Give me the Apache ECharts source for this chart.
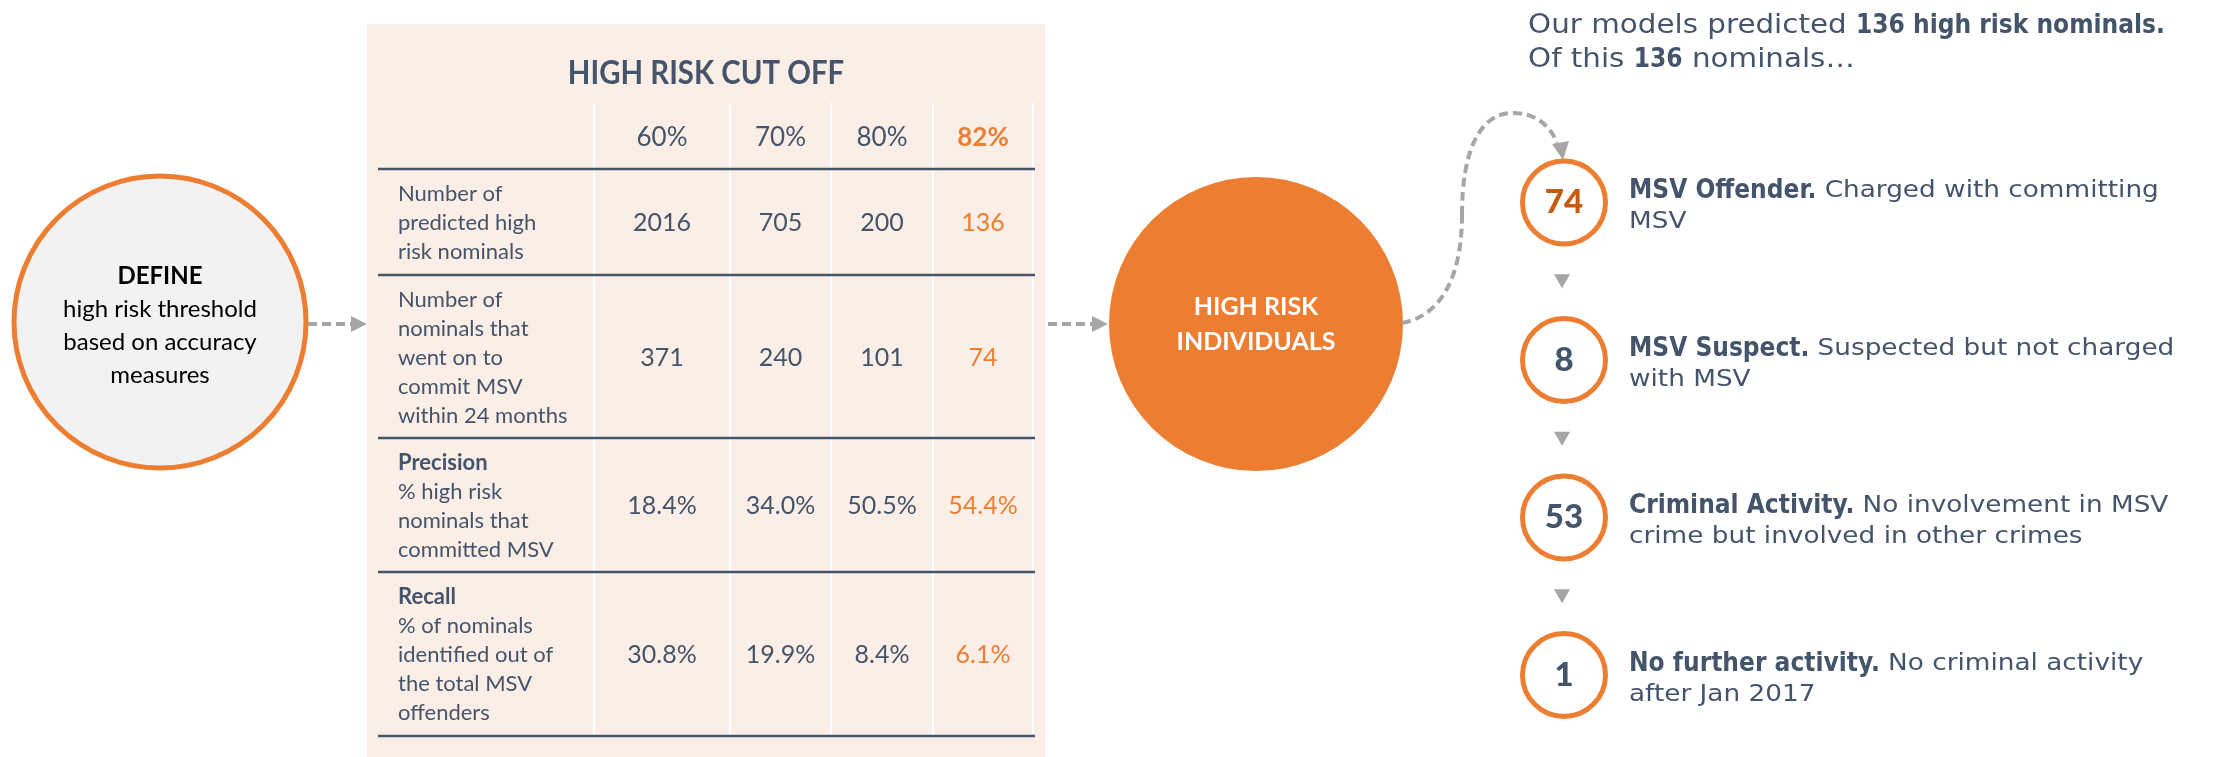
<!DOCTYPE html>
<html>
<head>
<meta charset="utf-8">
<script src="https://cdn.jsdelivr.net/npm/echarts@6/dist/echarts.min.js"></script>
<style>html,body{margin:0;padding:0;background:#fff;}#chart{width:2229px;height:757px;}</style>
</head>
<body>
<div id="chart"></div>
<script>
// ---- data ----
const cutoffs = ['60%', '70%', '80%', '82%'];
const predictedHighRisk = [2016, 705, 200, 136];
const committedWithin24m = [371, 240, 101, 74];
const precisionPct = [18.4, 34.0, 50.5, 54.4];
const recallPct = [30.8, 19.9, 8.4, 6.1];
const rowTitles = ['', '', 'Precision', 'Recall'];
const rowLabelLines = [
  ['Number of', 'predicted high', 'risk nominals'],
  ['Number of', 'nominals that', 'went on to', 'commit MSV', 'within 24 months'],
  ['% high risk', 'nominals that', 'committed MSV'],
  ['% of nominals', 'identified out of', 'the total MSV', 'offenders']
];
const outcomeCounts = [74, 8, 53, 1];
const outcomeTitles = ['MSV Offender.', 'MSV Suspect.', 'Criminal Activity.', 'No further activity.'];
const outcomeLine1 = ['Charged with committing', 'Suspected but not charged', 'No involvement in MSV', 'No criminal activity'];
const outcomeLine2 = ['MSV', 'with MSV', 'crime but involved in other crimes', 'after Jan 2017'];
const totalPredicted = 136;

// ---- style ----
const SLATE = '#44546a', ORANGE = '#ed7d31', DARK_ORANGE = '#c55a11', GREY = '#a6a6a6', PANEL = '#fbeee6';
const CAL = 'Lato, "Noto Sans", sans-serif';

const rows = [
  predictedHighRisk.map(String),
  committedWithin24m.map(String),
  precisionPct.map(v => v.toFixed(1) + '%'),
  recallPct.map(v => v.toFixed(1) + '%')
];

const measureCtx = document.createElement('canvas').getContext('2d');
// lay out a line of mixed regular / bold runs, each horizontally scaled
function runLine(g, x, y, runs) {
  let cx = x;
  runs.forEach(r => {
    measureCtx.font = r.font;
    const w = measureCtx.measureText(r.t).width * r.k;
    g.push({type: 'text', x: cx, y: y, scaleX: r.k, style: {text: r.t, font: r.font, fill: SLATE, align: 'left', verticalAlign: 'middle'}});
    cx += w;
  });
}
const F_BOLD = 'bold 26px "DejaVu Sans"';
const F_HEAD = '26px "DejaVu Sans"';
const F_DESC = '23px "DejaVu Sans"';
const K_BOLD = 0.9, K_HEAD = 1.13, K_DESC = 1.144;

const g = [];
// left circle
g.push({type: 'circle', shape: {cx: 160, cy: 322, r: 146}, style: {fill: '#f2f2f2', stroke: ORANGE, lineWidth: 5}});
g.push({type: 'text', x: 160, y: 326, style: {
  text: '{b|DEFINE}\nhigh risk threshold\nbased on accuracy\nmeasures',
  align: 'center', verticalAlign: 'middle', fill: '#000', fontFamily: CAL, fontSize: 24, lineHeight: 33,
  rich: {b: {fontWeight: 'bold', fontFamily: CAL, fontSize: 24, fill: '#000', lineHeight: 33}}
}});

// dashed arrows
function dashedArrow(x1, x2, y) {
  g.push({type: 'line', shape: {x1: x1, y1: y, x2: x2 - 15, y2: y}, style: {stroke: GREY, lineWidth: 4, lineDash: [9, 5]}});
  g.push({type: 'polygon', shape: {points: [[x2 - 16, y - 8], [x2, y], [x2 - 16, y + 8]]}, style: {fill: GREY}});
}
dashedArrow(308, 367, 324);
dashedArrow(1048, 1108, 324);

// table panel
g.push({type: 'rect', shape: {x: 367, y: 24, width: 678, height: 733}, style: {fill: PANEL}});
g.push({type: 'text', x: 706, y: 73, scaleX: 0.89, style: {text: 'HIGH RISK CUT OFF', align: 'center', verticalAlign: 'middle',
  fill: SLATE, fontFamily: CAL, fontSize: 33, fontWeight: 'bold'}});

const colSep = [594, 730, 831, 933, 1033];
const rowLines = [169, 275, 438, 572, 736];
const headerTop = 103;
colSep.forEach(x => g.push({type: 'line', shape: {x1: x, y1: headerTop, x2: x, y2: 736}, style: {stroke: '#ffffff', lineWidth: 2}}));
rowLines.forEach(y => g.push({type: 'line', shape: {x1: 378, y1: y, x2: 1035, y2: y}, style: {stroke: SLATE, lineWidth: 2.5}}));

const colCenters = colSep.slice(0, 4).map((x, i) => (x + colSep[i + 1]) / 2);
cutoffs.forEach((c, i) => {
  const last = i === cutoffs.length - 1;
  g.push({type: 'text', x: colCenters[i], y: 138, style: {text: c, align: 'center', verticalAlign: 'middle',
    fill: last ? ORANGE : SLATE, fontFamily: CAL, fontSize: 26, fontWeight: last ? 'bold' : 'normal'}});
});
rows.forEach((vals, r) => {
  const mid = (rowLines[r] + rowLines[r + 1]) / 2;
  let txt = rowLabelLines[r].join('\n');
  if (rowTitles[r]) txt = '{b|' + rowTitles[r] + '}\n' + txt;
  g.push({type: 'text', x: 398, y: mid + 1, style: {text: txt, align: 'left', verticalAlign: 'middle',
    fill: SLATE, fontFamily: CAL, fontSize: 22, lineHeight: 29,
    rich: {b: {fontWeight: 'bold', fontFamily: CAL, fontSize: 22, fill: SLATE, lineHeight: 29}}}});
  vals.forEach((v, i) => {
    g.push({type: 'text', x: colCenters[i], y: mid + 1, style: {text: v, align: 'center', verticalAlign: 'middle',
      fill: i === vals.length - 1 ? ORANGE : SLATE, fontFamily: CAL, fontSize: 25}});
  });
});

// big orange circle
g.push({type: 'circle', shape: {cx: 1256, cy: 324, r: 147}, style: {fill: ORANGE}});
g.push({type: 'text', x: 1256, y: 324, style: {text: 'HIGH RISK\nINDIVIDUALS', align: 'center', verticalAlign: 'middle',
  fill: '#fff', fontFamily: CAL, fontSize: 25, fontWeight: 'bold', lineHeight: 35}});

// curved dashed connector
const curveStyle = {stroke: GREY, lineWidth: 4, lineDash: [9, 5], fill: null};
g.push({type: 'bezierCurve', shape: {x1: 1402, y1: 323, cpx1: 1445, cpy1: 315, cpx2: 1462, cpy2: 270, x2: 1462, y2: 215}, style: curveStyle});
g.push({type: 'bezierCurve', shape: {x1: 1462, y1: 215, cpx1: 1462, cpy1: 150, cpx2: 1480, cpy2: 113, x2: 1513, y2: 113}, style: curveStyle});
g.push({type: 'bezierCurve', shape: {x1: 1513, y1: 113, cpx1: 1535, cpy1: 113, cpx2: 1550, cpy2: 125, x2: 1557, y2: 143}, style: curveStyle});
g.push({type: 'polygon', shape: {points: [[1552, 144], [1569, 141], [1563, 160]]}, style: {fill: GREY}});

// header text on right
runLine(g, 1528, 26, [
  {t: 'Our models predicted ', font: F_HEAD, k: K_HEAD},
  {t: totalPredicted + ' high risk nominals.', font: F_BOLD, k: K_BOLD}
]);
runLine(g, 1528, 60, [
  {t: 'Of this ', font: F_HEAD, k: K_HEAD},
  {t: String(totalPredicted), font: F_BOLD, k: K_BOLD},
  {t: ' nominals\u2026', font: F_HEAD, k: K_HEAD}
]);

// outcome layout (category axis)
const gridTop = 123.75, step = 157.5;

const chart = echarts.init(document.getElementById('chart'), null, {renderer: 'canvas'});
chart.setOption({
  animation: false,
  backgroundColor: '#ffffff',
  grid: {left: 1521, width: 86, top: gridTop, height: step * outcomeCounts.length},
  xAxis: {type: 'value', min: -1, max: 1, show: false},
  yAxis: {type: 'category', data: outcomeTitles, inverse: true, show: false},
  series: [
    {
      type: 'scatter', silent: true, symbol: 'circle', symbolSize: 83,
      data: outcomeCounts.map((v, i) => [0, outcomeTitles[i], v]),
      itemStyle: {color: '#fff', borderColor: ORANGE, borderWidth: 5, opacity: 1},
      label: {show: true, position: 'inside',
        formatter: p => (p.dataIndex === 0 ? '{o|' : '{s|') + p.value[2] + '}',
        rich: {
          o: {fontFamily: 'Lato', fontSize: 33, fontWeight: 900, color: DARK_ORANGE},
          s: {fontFamily: 'Lato', fontSize: 33, fontWeight: 900, color: SLATE}
        }
      },
      encode: {x: 0, y: 1},
      z: 5
    }
  ]
});

// descriptions and connecting triangles placed from the category axis
const centers = outcomeTitles.map(t => chart.convertToPixel({yAxisIndex: 0}, t));
centers.forEach((cy, i) => {
  runLine(g, 1629, cy - 11, [
    {t: outcomeTitles[i] + ' ', font: F_BOLD, k: K_BOLD},
    {t: outcomeLine1[i], font: F_DESC, k: K_DESC}
  ]);
  runLine(g, 1629, cy + 20, [{t: outcomeLine2[i], font: F_DESC, k: K_DESC}]);
  if (i < centers.length - 1) {
    const y = (cy + centers[i + 1]) / 2;
    g.push({type: 'polygon', shape: {points: [[1554, y - 7], [1570, y - 7], [1562, y + 7]]}, style: {fill: GREY}});
  }
});
chart.setOption({graphic: {elements: g}});
</script>
</body>
</html>
